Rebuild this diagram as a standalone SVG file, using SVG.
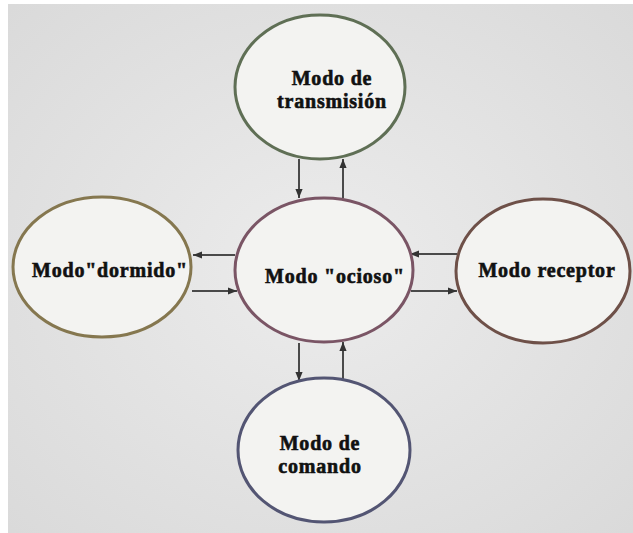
<svg xmlns="http://www.w3.org/2000/svg" width="633" height="533" viewBox="0 0 633 533">
<defs>
<radialGradient id="bg" cx="50%" cy="50%" r="70%">
<stop offset="0" stop-color="#ececec"/>
<stop offset="1" stop-color="#dadada"/>
</radialGradient>
<marker id="ah" viewBox="0 0 10 10" refX="10" refY="5" markerWidth="9" markerHeight="9" markerUnits="userSpaceOnUse" orient="auto">
<path d="M0,1 L10,5 L0,9 Z" fill="#333"/>
</marker>
<style>
.n{fill:#f3f3f1;stroke-width:3}
.t{font-family:"Liberation Serif","DejaVu Serif",serif;font-weight:bold;font-size:20px;letter-spacing:0.8px;fill:#111;stroke:#111;stroke-width:0.6;text-anchor:middle}
.c{stroke:#4a4a4a;stroke-width:2;fill:none;marker-end:url(#ah)}
</style>
</defs>
<rect width="633" height="533" fill="#ffffff"/>
<rect x="8" y="4" width="625" height="529" fill="url(#bg)"/>
<g id="connectors">
<line class="c" x1="299" y1="159" x2="299" y2="198"/>
<line class="c" x1="343" y1="198" x2="343" y2="159"/>
<line class="c" x1="235" y1="255" x2="193" y2="255"/>
<line class="c" x1="192" y1="291" x2="237" y2="291"/>
<line class="c" x1="457" y1="254" x2="410" y2="254"/>
<line class="c" x1="411" y1="291" x2="457" y2="291"/>
<line class="c" x1="299" y1="343" x2="299" y2="381"/>
<line class="c" x1="343" y1="380" x2="343" y2="342"/>
</g>
<g id="transmision">
<ellipse class="n" cx="320" cy="87" rx="85" ry="72" stroke="#5f6f55"/>
<text class="t" x="332" y="85">Modo de</text>
<text class="t" x="332" y="108">transmisión</text>
</g>
<g id="ocioso">
<ellipse class="n" cx="324" cy="270" rx="89" ry="72" stroke="#7a5565"/>
<text class="t" x="335" y="283">Modo "ocioso"</text>
</g>
<g id="dormido">
<ellipse class="n" cx="102" cy="267" rx="89" ry="70" stroke="#85774f"/>
<text class="t" x="110" y="277">Modo"dormido"</text>
</g>
<g id="receptor">
<ellipse class="n" cx="543" cy="271" rx="87" ry="72" stroke="#6e5048"/>
<text class="t" x="547" y="277">Modo receptor</text>
</g>
<g id="comando">
<ellipse class="n" cx="324" cy="450" rx="86" ry="72" stroke="#535573"/>
<text class="t" x="320" y="450">Modo de</text>
<text class="t" x="320" y="473">comando</text>
</g>
</svg>
